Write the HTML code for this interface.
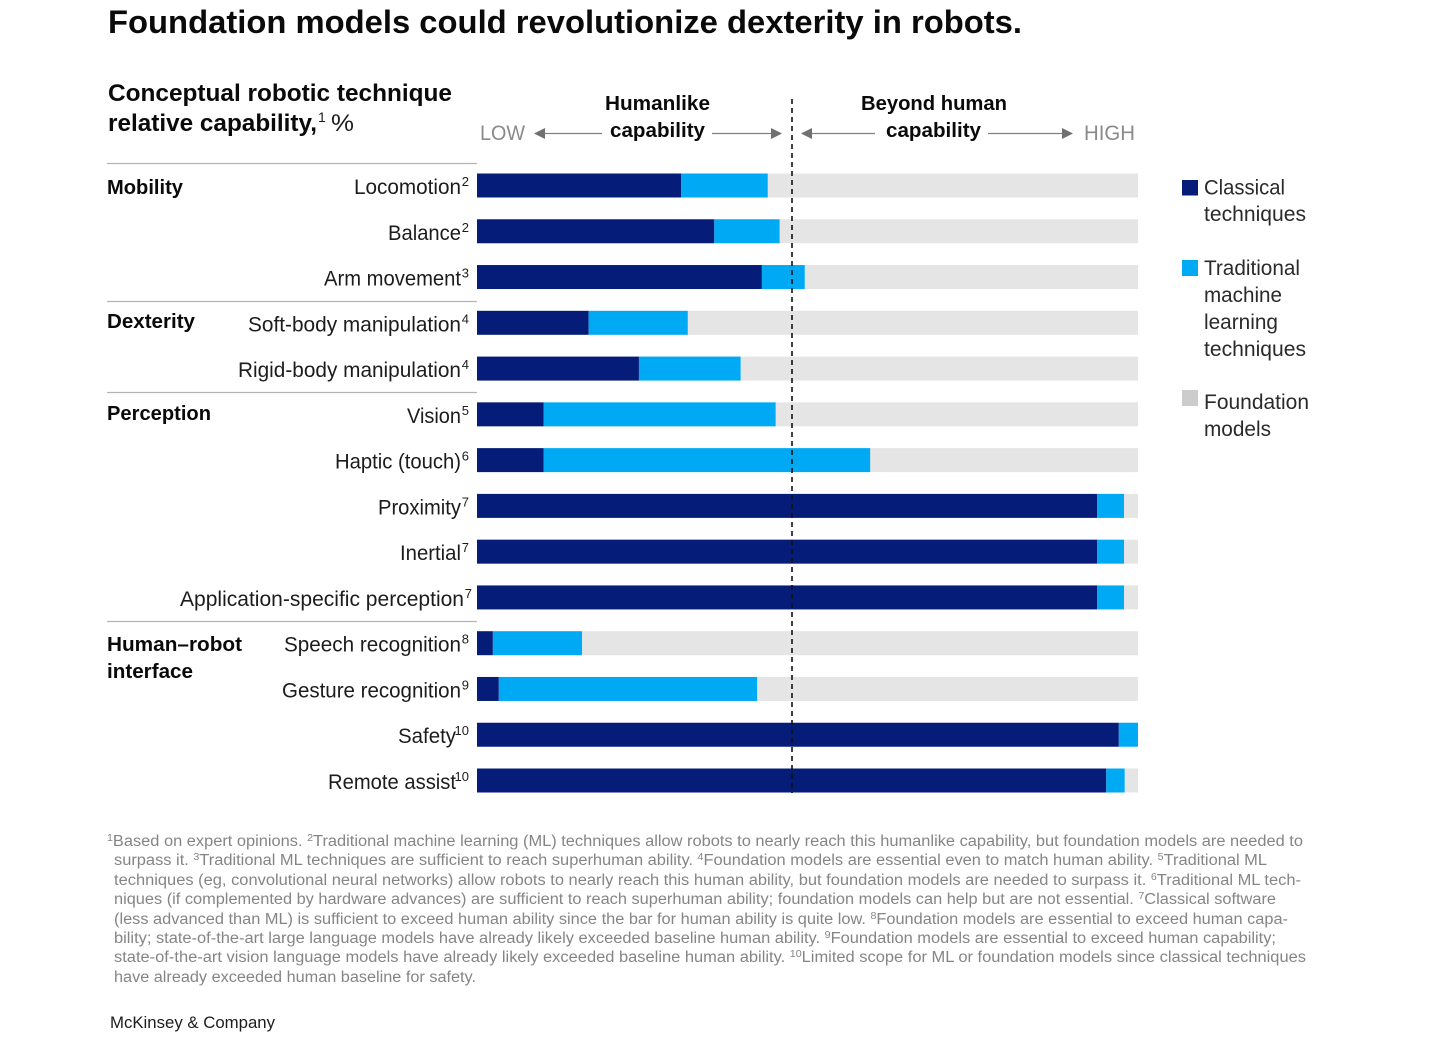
<!DOCTYPE html>
<html lang="en">
<head>
<meta charset="utf-8">
<title>Foundation models could revolutionize dexterity in robots</title>
<style>
html,body{margin:0;padding:0;background:#fff;width:1456px;height:1039px;overflow:hidden}
svg{display:block;font-family:"Liberation Sans",sans-serif}
.b{font-weight:bold;fill:#0a0a0a}
.r{fill:#1c1c1c}
.fn{font-size:15.4px;fill:#858585}
.leg{font-size:21px;fill:#2a2a2a}
.grp{font-size:20.5px;font-weight:bold;fill:#0a0a0a}
.hd{font-size:20.5px;font-weight:bold;fill:#0a0a0a}
.lh{font-size:21px;fill:#8a8a8a}
.rl{font-size:21px;fill:#1c1c1c}
.rm{font-size:13px;fill:#1c1c1c;text-anchor:end}
</style>
</head>
<body>
<svg id="chart" xmlns="http://www.w3.org/2000/svg" width="1456" height="1039" viewBox="0 0 1456 1039">
<defs>
<marker id="ah" viewBox="0 0 11 11" refX="10" refY="5.5" markerWidth="11" markerHeight="11" markerUnits="userSpaceOnUse" orient="auto-start-reverse"><path d="M0 0L11 5.5L0 11Z" fill="#707070"/></marker>
</defs>

<text class="b" x="108" y="33" font-size="32" textLength="914" lengthAdjust="spacingAndGlyphs">Foundation models could revolutionize dexterity in robots.</text>

<text class="b" x="108" y="101" font-size="24.5" textLength="344" lengthAdjust="spacingAndGlyphs">Conceptual robotic technique</text>
<text class="b" x="108" y="131" font-size="24.5" textLength="209" lengthAdjust="spacingAndGlyphs">relative capability,</text>
<text class="r" x="318" y="122" font-size="14">1</text>
<text class="r" x="331" y="131" font-size="24" textLength="23" lengthAdjust="spacingAndGlyphs">%</text>

<text class="lh" x="480" y="140" textLength="45" lengthAdjust="spacingAndGlyphs">LOW</text>
<text class="lh" x="1084" y="140" textLength="51" lengthAdjust="spacingAndGlyphs">HIGH</text>
<text class="hd" x="605" y="110" textLength="105" lengthAdjust="spacingAndGlyphs">Humanlike</text>
<text class="hd" x="610" y="137" textLength="95" lengthAdjust="spacingAndGlyphs">capability</text>
<text class="hd" x="861" y="110" textLength="146" lengthAdjust="spacingAndGlyphs">Beyond human</text>
<text class="hd" x="886" y="137" textLength="95" lengthAdjust="spacingAndGlyphs">capability</text>
<line x1="602" y1="133.5" x2="535" y2="133.5" stroke="#808080" stroke-width="1.2" marker-end="url(#ah)"/>
<line x1="712" y1="133.5" x2="781" y2="133.5" stroke="#808080" stroke-width="1.2" marker-end="url(#ah)"/>
<line x1="875" y1="133.5" x2="802" y2="133.5" stroke="#808080" stroke-width="1.2" marker-end="url(#ah)"/>
<line x1="988" y1="133.5" x2="1072" y2="133.5" stroke="#808080" stroke-width="1.2" marker-end="url(#ah)"/>

<line x1="107" x2="477" y1="163.5" y2="163.5" stroke="#b4b4b4" stroke-width="1.2"/>
<line x1="107" x2="477" y1="301.5" y2="301.5" stroke="#b4b4b4" stroke-width="1.2"/>
<line x1="107" x2="477" y1="392.5" y2="392.5" stroke="#b4b4b4" stroke-width="1.2"/>
<line x1="107" x2="477" y1="621.5" y2="621.5" stroke="#b4b4b4" stroke-width="1.2"/>
<text class="grp" x="107" y="194" textLength="76" lengthAdjust="spacingAndGlyphs">Mobility</text>
<text class="grp" x="107" y="328" textLength="88" lengthAdjust="spacingAndGlyphs">Dexterity</text>
<text class="grp" x="107" y="420" textLength="104" lengthAdjust="spacingAndGlyphs">Perception</text>
<text class="grp" x="107" y="651" textLength="135" lengthAdjust="spacingAndGlyphs">Human–robot</text>
<text class="grp" x="107" y="678" textLength="86" lengthAdjust="spacingAndGlyphs">interface</text>

<g id="bars"></g>

<g>
<text class="rl" x="354" y="194" textLength="107" lengthAdjust="spacingAndGlyphs">Locomotion</text>
<text class="rm" x="469" y="186">2</text>
<text class="rl" x="388" y="239.8" textLength="73" lengthAdjust="spacingAndGlyphs">Balance</text>
<text class="rm" x="469" y="231.8">2</text>
<text class="rl" x="324" y="285.5" textLength="137" lengthAdjust="spacingAndGlyphs">Arm movement</text>
<text class="rm" x="469" y="277.5">3</text>
<text class="rl" x="248" y="331.3" textLength="213" lengthAdjust="spacingAndGlyphs">Soft-body manipulation</text>
<text class="rm" x="469" y="323.3">4</text>
<text class="rl" x="238" y="377.1" textLength="223" lengthAdjust="spacingAndGlyphs">Rigid-body manipulation</text>
<text class="rm" x="469" y="369.1">4</text>
<text class="rl" x="407" y="422.9" textLength="54" lengthAdjust="spacingAndGlyphs">Vision</text>
<text class="rm" x="469" y="414.9">5</text>
<text class="rl" x="335" y="468.6" textLength="126" lengthAdjust="spacingAndGlyphs">Haptic (touch)</text>
<text class="rm" x="469" y="460.6">6</text>
<text class="rl" x="378" y="514.4" textLength="83" lengthAdjust="spacingAndGlyphs">Proximity</text>
<text class="rm" x="469" y="506.4">7</text>
<text class="rl" x="400" y="560.2" textLength="61" lengthAdjust="spacingAndGlyphs">Inertial</text>
<text class="rm" x="469" y="552.2">7</text>
<text class="rl" x="180" y="605.9" textLength="284" lengthAdjust="spacingAndGlyphs">Application-specific perception</text>
<text class="rm" x="472" y="597.9">7</text>
<text class="rl" x="284" y="651.7" textLength="177" lengthAdjust="spacingAndGlyphs">Speech recognition</text>
<text class="rm" x="469" y="643.7">8</text>
<text class="rl" x="282" y="697.5" textLength="179" lengthAdjust="spacingAndGlyphs">Gesture recognition</text>
<text class="rm" x="469" y="689.5">9</text>
<text class="rl" x="398" y="743.2" textLength="58" lengthAdjust="spacingAndGlyphs">Safety</text>
<text class="rm" x="469" y="735.2">10</text>
<text class="rl" x="328" y="789" textLength="128" lengthAdjust="spacingAndGlyphs">Remote assist</text>
<text class="rm" x="469" y="781">10</text>
</g>

<line x1="792" x2="792" y1="99" y2="793" stroke="#111" stroke-width="1.6" stroke-dasharray="5 4"/>

<g>
<rect x="1182" y="180" width="16" height="15.5" fill="#051d78"/>
<text class="leg" x="1204" y="194.5" textLength="81" lengthAdjust="spacingAndGlyphs">Classical</text>
<text class="leg" x="1204" y="221" textLength="102" lengthAdjust="spacingAndGlyphs">techniques</text>
<rect x="1182" y="260" width="16" height="16" fill="#00a9f4"/>
<text class="leg" x="1204" y="275" textLength="96" lengthAdjust="spacingAndGlyphs">Traditional</text>
<text class="leg" x="1204" y="302" textLength="78" lengthAdjust="spacingAndGlyphs">machine</text>
<text class="leg" x="1204" y="329" textLength="74" lengthAdjust="spacingAndGlyphs">learning</text>
<text class="leg" x="1204" y="356" textLength="102" lengthAdjust="spacingAndGlyphs">techniques</text>
<rect x="1182" y="390" width="16" height="16" fill="#cccccc"/>
<text class="leg" x="1204" y="409" textLength="105" lengthAdjust="spacingAndGlyphs">Foundation</text>
<text class="leg" x="1204" y="436" textLength="67" lengthAdjust="spacingAndGlyphs">models</text>
</g>

<g>
<text class="fn" x="107" y="846" textLength="1196" lengthAdjust="spacingAndGlyphs"><tspan font-size="10" dy="-5">1</tspan><tspan dy="5">Based on expert opinions. </tspan><tspan font-size="10" dy="-5">2</tspan><tspan dy="5">Traditional machine learning (ML) techniques allow robots to nearly reach this humanlike capability, but foundation models are needed to</tspan></text>
<text class="fn" x="114" y="865" textLength="1153" lengthAdjust="spacingAndGlyphs">surpass it. <tspan font-size="10" dy="-5">3</tspan><tspan dy="5">Traditional ML techniques are sufficient to reach superhuman ability. </tspan><tspan font-size="10" dy="-5">4</tspan><tspan dy="5">Foundation models are essential even to match human ability. </tspan><tspan font-size="10" dy="-5">5</tspan><tspan dy="5">Traditional ML</tspan></text>
<text class="fn" x="114" y="885" textLength="1187" lengthAdjust="spacingAndGlyphs">techniques (eg, convolutional neural networks) allow robots to nearly reach this human ability, but foundation models are needed to surpass it. <tspan font-size="10" dy="-5">6</tspan><tspan dy="5">Traditional ML tech-</tspan></text>
<text class="fn" x="114" y="904" textLength="1162" lengthAdjust="spacingAndGlyphs">niques (if complemented by hardware advances) are sufficient to reach superhuman ability; foundation models can help but are not essential. <tspan font-size="10" dy="-5">7</tspan><tspan dy="5">Classical software</tspan></text>
<text class="fn" x="114" y="924" textLength="1174" lengthAdjust="spacingAndGlyphs">(less advanced than ML) is sufficient to exceed human ability since the bar for human ability is quite low. <tspan font-size="10" dy="-5">8</tspan><tspan dy="5">Foundation models are essential to exceed human capa-</tspan></text>
<text class="fn" x="114" y="943" textLength="1162" lengthAdjust="spacingAndGlyphs">bility; state-of-the-art large language models have already likely exceeded baseline human ability. <tspan font-size="10" dy="-5">9</tspan><tspan dy="5">Foundation models are essential to exceed human capability;</tspan></text>
<text class="fn" x="114" y="962" textLength="1192" lengthAdjust="spacingAndGlyphs">state-of-the-art vision language models have already likely exceeded baseline human ability. <tspan font-size="10" dy="-5">10</tspan><tspan dy="5">Limited scope for ML or foundation models since classical techniques</tspan></text>
<text class="fn" x="114" y="982" textLength="362" lengthAdjust="spacingAndGlyphs">have already exceeded human baseline for safety.</text>
</g>

<text x="110" y="1028" font-size="17" fill="#1c1c1c" textLength="165" lengthAdjust="spacingAndGlyphs">McKinsey &amp; Company</text>
</svg>

<script>
const categories = ["Locomotion","Balance","Arm movement","Soft-body manipulation","Rigid-body manipulation","Vision","Haptic (touch)","Proximity","Inertial","Application-specific perception","Speech recognition","Gesture recognition","Safety","Remote assist"];
const classical = [30.9,35.9,43.1,16.9,24.5,10.1,10.1,93.8,93.8,93.8,2.4,3.3,97.1,95.2];
const traditional = [13.1,9.9,6.5,15.0,15.4,35.1,49.4,4.1,4.1,4.1,13.5,39.1,2.9,2.8];
const foundation = [56.0,54.2,50.4,68.1,60.1,54.8,40.5,2.1,2.1,2.1,84.1,57.6,0,2.0];

const NS = "http://www.w3.org/2000/svg";
const plotLeft = 477, plotWidth = 661, firstRowCenter = 185.5, rowStep = 45.77, barHeight = 24;
const xScale = v => v / 100 * plotWidth;
const rowCenter = i => firstRowCenter + i * rowStep;
const seriesList = [
  {name: "classical", values: classical, color: "#051d78"},
  {name: "traditional", values: traditional, color: "#00a9f4"},
  {name: "foundation", values: foundation, color: "#e5e5e5"}
];
const barsGroup = document.getElementById("bars");

categories.forEach((cat, i) => {
  let acc = 0;
  seriesList.forEach(s => {
    const v = s.values[i];
    const rect = document.createElementNS(NS, "rect");
    
    
    rect.setAttribute("data-category", cat);
    rect.setAttribute("data-series", s.name);
    rect.setAttribute("x", plotLeft + xScale(acc));
    rect.setAttribute("y", rowCenter(i) - barHeight / 2);
    rect.setAttribute("width", xScale(v));
    rect.setAttribute("height", barHeight);
    rect.setAttribute("fill", s.color);
    barsGroup.appendChild(rect);
    acc += v;
  });
});
</script>
</body>
</html>
